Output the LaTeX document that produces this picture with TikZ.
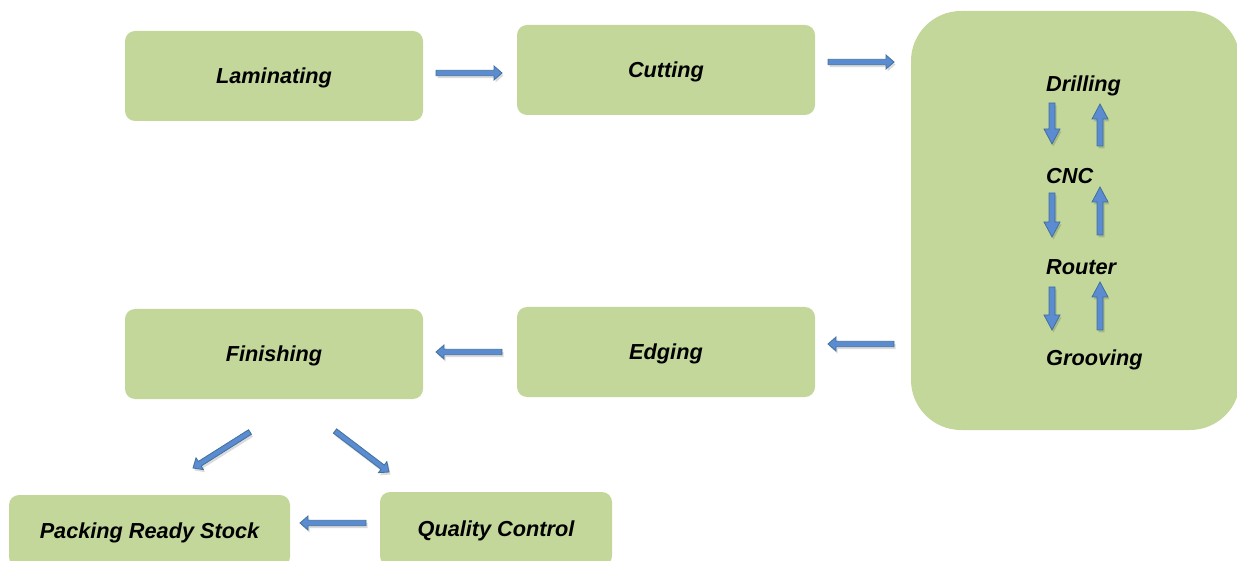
\documentclass[tikz,border=0pt]{standalone}
\usepackage{fontspec}
\setmainfont{Liberation Sans}
\usetikzlibrary{calc}
\definecolor{boxgreen}{HTML}{C4D79B}
\definecolor{arrfill}{HTML}{5B8BD0}
\definecolor{arredge}{HTML}{41719C}
\tikzset{
  lbl/.style={font=\fontsize{21.7}{24}\selectfont\bfseries\itshape, text=black, inner sep=0pt, text depth=0pt},
  stage/.style={lbl, fill=boxgreen, rounded corners=10pt, minimum width=298pt, minimum height=90pt},
  blk/.style n args={3}{draw=arredge, fill=arrfill, line width=0.8pt, line join=miter,
    preaction={fill=black, opacity=0.14, transform canvas={shift={(1.5pt,-2.5pt)}}},
    to path={
      ($(\tikztostart)!#1!90:(\tikztotarget)$) --
      ($($(\tikztotarget)!#3!(\tikztostart)$)!#1!-90:(\tikztostart)$) --
      ($($(\tikztotarget)!#3!(\tikztostart)$)!#2!-90:(\tikztostart)$) --
      (\tikztotarget) --
      ($($(\tikztotarget)!#3!(\tikztostart)$)!#2!90:(\tikztostart)$) --
      ($($(\tikztotarget)!#3!(\tikztostart)$)!#1!90:(\tikztostart)$) --
      ($(\tikztostart)!#1!-90:(\tikztotarget)$) -- cycle}},
  harrow/.style={blk={2.7pt}{7pt}{8pt}},
  varrow/.style={blk={3pt}{8pt}{15pt}}
}
\begin{document}
\begin{tikzpicture}[x=1pt,y=-1pt]
\useasboundingbox (0,0) rectangle (1237,561);
% big box
\node[fill=boxgreen, rounded corners=50pt, minimum width=329pt, minimum height=419pt, inner sep=0pt] (big) at (1075.5,220.5) {};
% stages
\node[stage] (lam) at (274,76) {Laminating};
\node[stage] (cut) at (666,70) {Cutting};
\node[stage] (edg) at (666,352) {Edging};
\node[stage] (fin) at (274,354) {Finishing};
\node[stage, minimum width=281pt, minimum height=72pt] (pack) at (149.5,531) {Packing Ready Stock};
\node[stage, minimum width=232pt, minimum height=74pt] (qc) at (496,529) {Quality Control};
% inner texts
\node[lbl, anchor=west] (dri) at (1046,84) {Drilling};
\node[lbl, anchor=west] (cnc) at (1046,176) {CNC};
\node[lbl, anchor=west] (rou) at (1046,267) {Router};
\node[lbl, anchor=west] (gro) at (1046,358) {Grooving};
% arrow end points
\coordinate (a1s) at (436,73);  \coordinate (a1e) at (502,73);
\coordinate (a2s) at (828,62);  \coordinate (a2e) at (894,62);
\coordinate (a3s) at (894,344); \coordinate (a3e) at (828,344);
\coordinate (a4s) at (502,352); \coordinate (a4e) at (436,352);
\coordinate (a5s) at (366,523); \coordinate (a5e) at (300,523);
\coordinate (d1s) at (250,432); \coordinate (d1e) at (193,468);
\coordinate (d2s) at (335,431); \coordinate (d2e) at (389,472);
\coordinate (v1s) at (1052,103); \coordinate (v1e) at (1052,144);
\coordinate (v2s) at (1052,193); \coordinate (v2e) at (1052,237);
\coordinate (v3s) at (1052,287); \coordinate (v3e) at (1052,330);
\coordinate (u1s) at (1100,146); \coordinate (u1e) at (1100,104);
\coordinate (u2s) at (1100,235); \coordinate (u2e) at (1100,187);
\coordinate (u3s) at (1100,330); \coordinate (u3e) at (1100,282);
% arrows
\draw[harrow] (a1s) to (a1e);
\draw[harrow] (a2s) to (a2e);
\draw[harrow] (a3s) to (a3e);
\draw[harrow] (a4s) to (a4e);
\draw[harrow] (a5s) to (a5e);
\draw[harrow] (d1s) to (d1e);
\draw[harrow] (d2s) to (d2e);
\draw[varrow] (v1s) to (v1e);
\draw[varrow] (v2s) to (v2e);
\draw[varrow] (v3s) to (v3e);
\draw[varrow] (u1s) to (u1e);
\draw[varrow] (u2s) to (u2e);
\draw[varrow] (u3s) to (u3e);
\end{tikzpicture}
\end{document}
